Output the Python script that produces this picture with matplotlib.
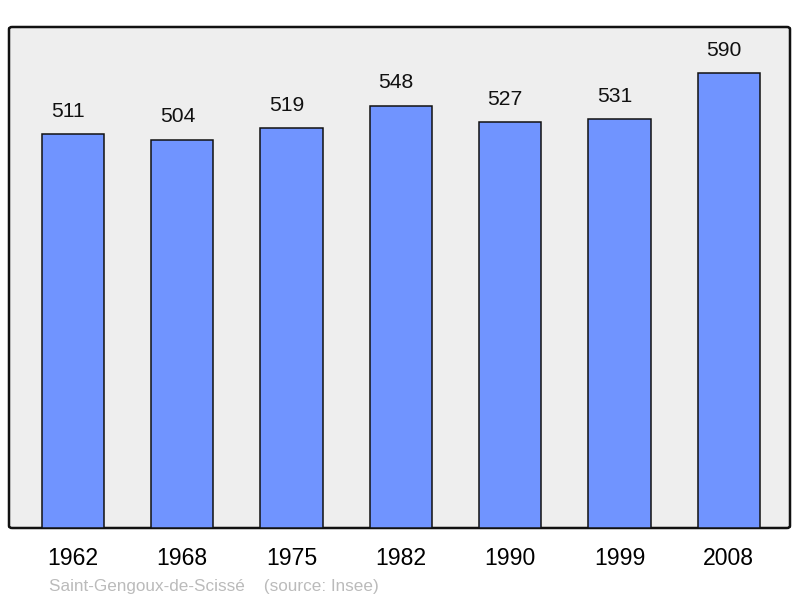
import matplotlib.pyplot as plt
from matplotlib.patches import FancyBboxPatch

years = ['1962', '1968', '1975', '1982', '1990', '1999', '2008']
population = [511, 504, 519, 548, 527, 531, 590]

plt.rcParams['font.family'] = ['Liberation Sans', 'DejaVu Sans']

fig = plt.figure(figsize=(8, 5.98), dpi=100)
ax = fig.add_axes([9 / 800, 70 / 598, 781 / 800, 501 / 598])
ax.set_facecolor('none')

# rounded grey frame behind the bars
frame = FancyBboxPatch((0, 0), 1, 1, boxstyle='round,pad=0,rounding_size=0.004',
                       transform=ax.transAxes, facecolor='#eeeeee',
                       edgecolor='#111111', linewidth=1.8, zorder=0, clip_on=False)
ax.add_patch(frame)

x = range(len(years))
bars = ax.bar(x, population, width=0.57, color='#7094ff', edgecolor='#111111',
              linewidth=1.1, zorder=2)

for xi, v in zip(x, population):
    ax.annotate(str(v), (xi, v), xytext=(-3.5, 16.3), textcoords='offset points',
                ha='center', va='center', fontsize=15.2, color='#111111')

ax.set_xlim(-0.585, 6.56)
ax.set_ylim(0, 650)
ax.set_xticks(list(x))
ax.set_xticklabels(years, fontsize=16.6)
ax.tick_params(axis='x', length=0, pad=14)
ax.set_yticks([])
for s in ax.spines.values():
    s.set_visible(False)

fig.text(49 / 800, 1 - 586 / 598, 'Saint-Gengoux-de-Scissé    (source: Insee)',
         fontsize=12.3, color='#bbbbbb', va='center', ha='left')

fig.savefig('out.png', dpi=100)
